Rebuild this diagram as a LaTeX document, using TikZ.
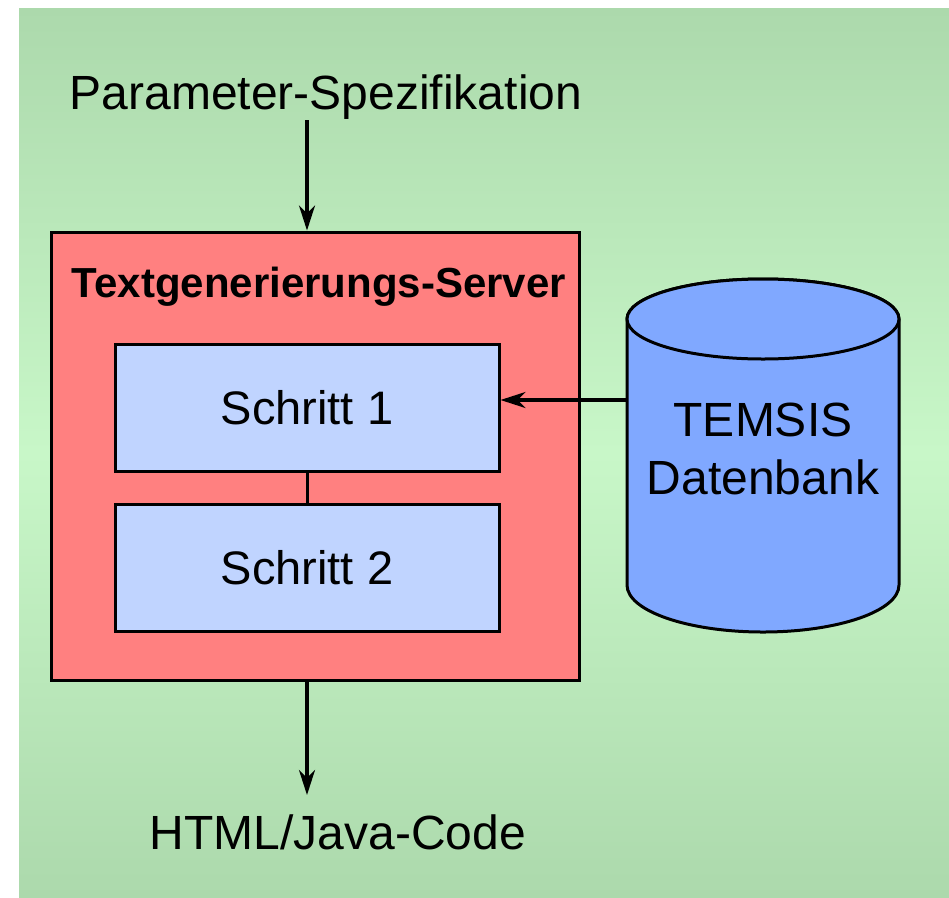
\documentclass[tikz,border=0pt]{standalone}
\usepackage{fontspec}
\setmainfont{Liberation Sans}
\usetikzlibrary{arrows.meta}
\definecolor{bgdark}{RGB}{172,217,172}
\definecolor{bglight}{RGB}{200,247,200}
\definecolor{serverred}{RGB}{255,128,128}
\definecolor{steplue}{RGB}{192,212,255}
\definecolor{dbblue}{RGB}{128,168,255}
\tikzset{
  lbl/.style={font=\fontsize{48}{56}\selectfont, inner sep=0pt},
  stepbox/.style={draw=black, line width=3pt, fill=steplue, minimum width=384pt, minimum height=127pt, font=\fontsize{47}{56}\selectfont},
  flow/.style={line width=3.2pt, -{Stealth[length=25pt,width=16pt,inset=8pt]}},
}
\begin{document}
\begin{tikzpicture}[x=1pt,y=-1pt]
\useasboundingbox (0,0) rectangle (949,897);
\shade[top color=bgdark, bottom color=bgdark, middle color=bglight] (19,8) rectangle (949,897);
% server
\node[draw=black, line width=3pt, fill=serverred, minimum width=528pt, minimum height=448pt, inner sep=0pt] (server) at (315,456) {};
\node[font=\bfseries\fontsize{42}{48}\selectfont, inner sep=0pt] (title) at (319,287) {Textgenerierungs-Server};
\node[stepbox] (s1) at (307,407.5) {Schritt 1};
\node[stepbox] (s2) at (307,567.5) {Schritt 2};
\draw[line width=3pt] (s1.south) -- (s2.north);
% database cylinder
\draw[line width=3pt, fill=dbblue] (627,319) -- (627,585) arc[start angle=180, end angle=0, x radius=136, y radius=47] -- (899,319) arc[start angle=0, end angle=-180, x radius=136, y radius=40] -- cycle;
\draw[line width=3pt, fill=dbblue] (763,319) ellipse[x radius=136, y radius=40];
\coordinate (dbleft) at (627,400);
\node[font=\fontsize{48}{58}\selectfont, align=center, inner sep=0pt] (db) at (763,449) {TEMSIS\\Datenbank};
\draw[flow] (dbleft) -- (s1.east |- dbleft);
% top and bottom
\node[lbl] (param) at (326,97) {Parameter-Spezifikation};
\node[lbl] (html) at (338,832) {HTML/Java-Code};
\coordinate (ptop) at (307,120);
\coordinate (hend) at (307,795);
\draw[flow] (ptop) -- (ptop |- server.north);
\draw[flow] (ptop |- server.south) -- (hend);
\end{tikzpicture}
\end{document}
